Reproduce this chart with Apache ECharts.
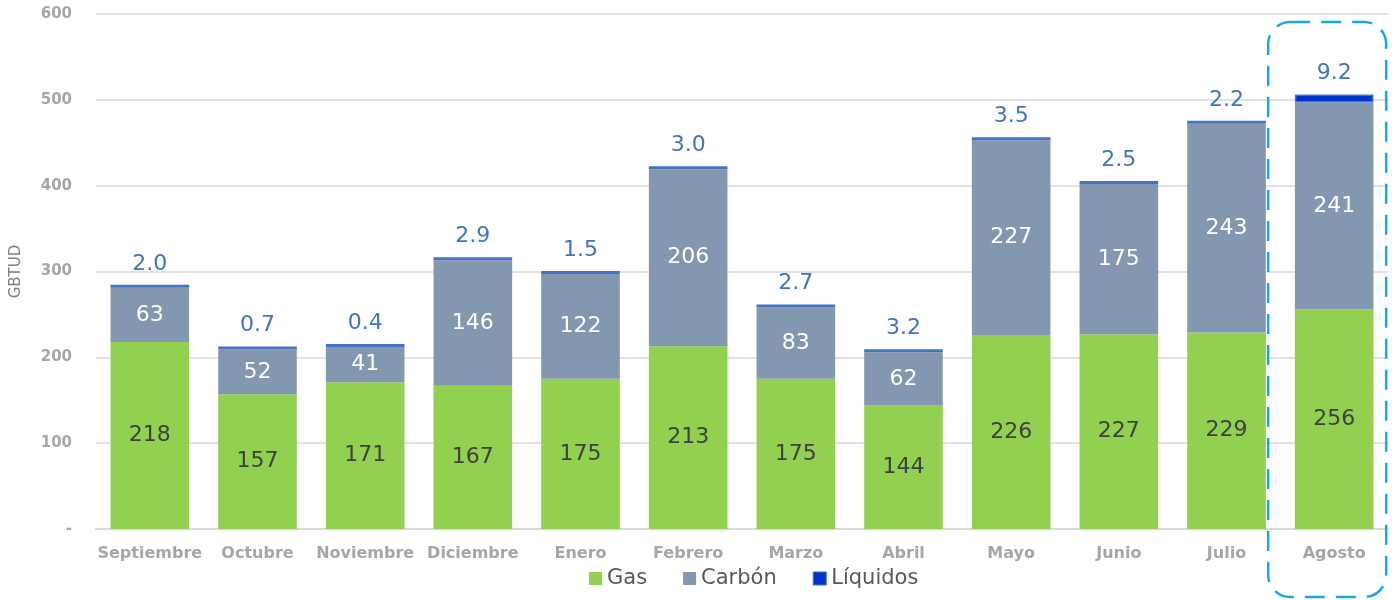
<!DOCTYPE html>
<html>
<head>
<meta charset="utf-8">
<script src="https://cdn.jsdelivr.net/npm/echarts@6/dist/echarts.min.js"></script>
<style>
  html, body { margin: 0; padding: 0; background: #fff; }
  #chart { width: 1392px; height: 600px; }
</style>
</head>
<body>
<div id="chart"></div>
<script>
const months = ['Septiembre', 'Octubre', 'Noviembre', 'Diciembre', 'Enero', 'Febrero', 'Marzo', 'Abril', 'Mayo', 'Junio', 'Julio', 'Agosto'];
const gas = [218, 157, 171, 167, 175, 213, 175, 144, 226, 227, 229, 256];
const carbon = [63, 52, 41, 146, 122, 206, 83, 62, 227, 175, 243, 241];
const liquidos = [2.0, 0.7, 0.4, 2.9, 1.5, 3.0, 2.7, 3.2, 3.5, 2.5, 2.2, 9.2];
const highlight = 'Agosto';

const FONT = 'DejaVu Sans';

const chart = echarts.init(document.getElementById('chart'));

const option = {
  animation: false,
  textStyle: { fontFamily: FONT },
  grid: { left: 96, right: 4, top: 14, bottom: 71 },
  legend: {
    bottom: 6,
    left: 584,
    icon: 'rect',
    itemWidth: 13,
    itemHeight: 13,
    itemGap: 36,
    textStyle: { color: '#595959', fontSize: 21, fontFamily: FONT },
    data: [
      { name: 'Gas' },
      { name: 'Carbón' },
      { name: 'Líquidos', itemStyle: { color: '#0033cc', borderColor: '#4472c4', borderWidth: 1 } }
    ]
  },
  xAxis: {
    type: 'category',
    data: months,
    axisLine: { lineStyle: { color: '#d9d9d9', width: 2 } },
    axisTick: { show: false },
    axisLabel: { color: '#a6a6a6', fontSize: 16, fontWeight: 'bold', margin: 17, interval: 0 }
  },
  yAxis: {
    type: 'value',
    min: 0,
    max: 600,
    interval: 100,
    name: 'GBTUD',
    nameLocation: 'middle',
    nameRotate: 90,
    nameGap: 72,
    nameTextStyle: { color: '#7f7f7f', fontSize: 15 },
    axisLine: { show: false },
    axisTick: { show: false },
    axisLabel: {
      color: '#a6a6a6', fontSize: 15, fontWeight: 'bold', margin: 24,
      formatter: v => v === 0 ? '-' : v
    },
    splitLine: { lineStyle: { color: '#d9d9d9', width: 1.5 } }
  },
  series: [
    {
      name: 'Gas',
      type: 'bar',
      stack: 'total',
      barWidth: '73%',
      data: gas,
      itemStyle: { color: '#92d050' },
      label: { show: true, position: 'inside', color: '#404040', fontSize: 22 }
    },
    {
      name: 'Carbón',
      type: 'bar',
      stack: 'total',
      data: carbon,
      itemStyle: { color: '#8497b0' },
      label: { show: true, position: 'inside', color: '#ffffff', fontSize: 22 }
    },
    {
      name: 'Líquidos',
      type: 'bar',
      stack: 'total',
      barMinHeight: 3,
      data: liquidos.map((v, i) => ({
        value: v,
        itemStyle: { color: months[i] === highlight ? '#0033cc' : '#4472c4' }
      })),
      itemStyle: { borderColor: '#4472c4', borderWidth: 1.5 },
      label: {
        show: true, position: 'top', distance: 10, color: '#4472c4', fontSize: 22,
        formatter: p => p.value.toFixed(1)
      }
    }
  ]
};

chart.setOption(option);

// dashed highlight box around the last month
const cx = chart.convertToPixel({ xAxisIndex: 0 }, highlight);
chart.setOption({
  graphic: [{
    type: 'rect',
    shape: { x: cx - 66, y: 22, width: 118, height: 575, r: 22 },
    style: { fill: 'none', stroke: '#1aa7e6', lineWidth: 2.5, lineDash: [20, 11] },
    z: 10
  }]
});
</script>
</body>
</html>
